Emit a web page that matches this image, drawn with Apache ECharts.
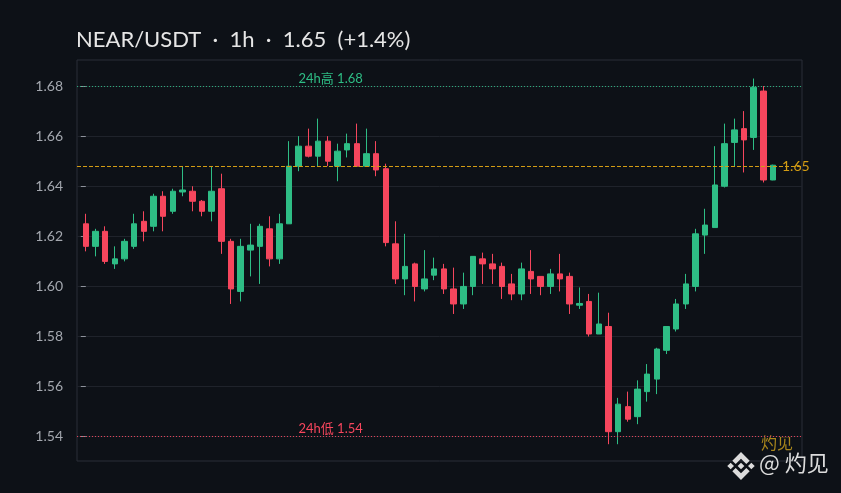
<!DOCTYPE html>
<html>
<head>
<meta charset="utf-8">
<script src="https://cdn.jsdelivr.net/npm/echarts@6/dist/echarts.min.js"></script>
<style>
html,body{margin:0;padding:0;background:#0d1117;}
#chart{width:841px;height:493px;}
</style>
</head>
<body>
<div id="chart"></div>
<script>
// ---- data ----
const categories = [
 '01:00','02:00','03:00','04:00','05:00','06:00','07:00','08:00','09:00','10:00','11:00','12:00',
 '13:00','14:00','15:00','16:00','17:00','18:00','19:00','20:00','21:00','22:00','23:00','00:00',
 '01:00','02:00','03:00','04:00','05:00','06:00','07:00','08:00','09:00','10:00','11:00','12:00',
 '13:00','14:00','15:00','16:00','17:00','18:00','19:00','20:00','21:00','22:00','23:00','00:00',
 '01:00','02:00','03:00','04:00','05:00','06:00','07:00','08:00','09:00','10:00','11:00','12:00',
 '13:00','14:00','15:00','16:00','17:00','18:00','19:00','20:00','21:00','22:00','23:00','00:00'
];
const opens = [
 1.625,1.616,1.622,1.609,1.611,1.616,1.626,1.624,1.636,1.630,1.6377,1.638,
 1.634,1.630,1.639,1.618,1.598,1.6145,1.616,1.623,1.611,1.625,1.648,1.656,
 1.652,1.658,1.648,1.6545,1.657,1.648,1.653,1.647,1.617,1.603,1.609,1.599,
 1.6045,1.607,1.599,1.593,1.600,1.611,1.609,1.608,1.601,1.597,1.606,1.604,
 1.600,1.605,1.604,1.5925,1.594,1.581,1.584,1.542,1.552,1.548,1.558,1.563,
 1.5745,1.583,1.593,1.600,1.6205,1.6235,1.640,1.6575,1.663,1.6595,1.678,1.6425
];
const closes = [
 1.616,1.622,1.610,1.611,1.618,1.625,1.622,1.636,1.628,1.638,1.6385,1.634,
 1.630,1.638,1.618,1.599,1.616,1.6165,1.624,1.611,1.625,1.648,1.656,1.652,
 1.658,1.650,1.654,1.657,1.648,1.653,1.6465,1.6175,1.603,1.608,1.600,1.603,
 1.607,1.599,1.593,1.600,1.612,1.609,1.607,1.600,1.597,1.607,1.603,1.600,
 1.605,1.603,1.593,1.5932,1.581,1.585,1.542,1.553,1.547,1.559,1.565,1.575,
 1.584,1.593,1.601,1.621,1.6245,1.6405,1.657,1.6625,1.6585,1.6795,1.6425,1.6484
];
const lows = [
 1.614,1.612,1.609,1.607,1.610,1.615,1.618,1.622,1.622,1.629,1.636,1.630,
 1.628,1.626,1.613,1.593,1.594,1.604,1.601,1.608,1.609,1.625,1.646,1.6515,
 1.648,1.648,1.642,1.6515,1.648,1.648,1.644,1.616,1.601,1.5965,1.594,1.598,
 1.6025,1.597,1.589,1.591,1.5965,1.601,1.601,1.595,1.5945,1.5945,1.597,1.5965,
 1.597,1.598,1.589,1.591,1.580,1.581,1.537,1.537,1.546,1.545,1.554,1.557,
 1.573,1.582,1.591,1.598,1.613,1.6235,1.6395,1.648,1.6455,1.6545,1.6415,1.6424
];
const highs = [
 1.629,1.623,1.624,1.616,1.619,1.629,1.630,1.637,1.638,1.639,1.648,1.640,
 1.6345,1.648,1.645,1.619,1.619,1.625,1.625,1.628,1.629,1.658,1.660,1.663,
 1.667,1.660,1.657,1.661,1.665,1.663,1.658,1.649,1.626,1.621,1.6095,1.6145,
 1.6115,1.609,1.6075,1.6055,1.612,1.6135,1.613,1.6095,1.605,1.6095,1.6145,1.604,
 1.607,1.613,1.6055,1.5996,1.597,1.5975,1.5895,1.5555,1.558,1.5625,1.569,1.5755,
 1.584,1.595,1.605,1.623,1.631,1.656,1.665,1.667,1.670,1.683,1.680,1.6486
];
const yTicks = [1.54,1.56,1.58,1.60,1.62,1.64,1.66,1.68];
const high24h = 1.68;
const low24h = 1.54;
const lastPrice = 1.648;
const titleText = 'NEAR/USDT  \u00b7  1h  \u00b7  1.65  (+1.4%)';

// ---- styles ----
const UP = '#2ebd85', DOWN = '#f6465d', GOLD = '#d29c14';
const X_MIN = -0.91, X_MAX = 74.0, Y_MIN = 1.5303, Y_MAX = 1.6904;
const LABEL_END_X = 51.5;
const CLEAR = 'rgba(0,0,0,0)';

const candles = opens.map((o, i) => [i, o, closes[i], lows[i], highs[i]]);

const chart = echarts.init(document.getElementById('chart'), null, {renderer: 'canvas'});

function bnbLogo(cx, cy, s, color) {
  const P = pts => ({type: 'polygon', shape: {points: pts.map(p => [cx + p[0] * s, cy + p[1] * s])}, style: {fill: color}, silent: true});
  return [
    P([[0,-1],[0.62,-0.38],[0.38,-0.14],[0,-0.52],[-0.38,-0.14],[-0.62,-0.38]]),
    P([[0,1],[0.62,0.38],[0.38,0.14],[0,0.52],[-0.38,0.14],[-0.62,0.38]]),
    P([[-0.98,0],[-0.74,-0.24],[-0.5,0],[-0.74,0.24]]),
    P([[0.98,0],[0.74,-0.24],[0.5,0],[0.74,0.24]]),
    P([[0,-0.24],[0.24,0],[0,0.24],[-0.24,0]])
  ];
}

chart.setOption({
  animation: false,
  backgroundColor: '#0d1117',
  textStyle: {fontFamily: 'Lato, "Noto Sans CJK SC", sans-serif'},
  title: {
    text: titleText,
    left: 71,
    top: 24,
    textStyle: {color: '#e6e6e6', fontSize: 22, fontWeight: 'normal', fontFamily: 'Lato, sans-serif'}
  },
  grid: {left: 77, right: 39, top: 60, bottom: 32, show: true, borderColor: '#2b2f38', borderWidth: 1, backgroundColor: 'transparent'},
  xAxis: {type: 'value', min: X_MIN, max: X_MAX, show: false},
  yAxis: {
    type: 'value', min: Y_MIN, max: Y_MAX, splitNumber: 8, scale: true,
    axisLine: {show: false},
    axisTick: {show: true, length: 5, lineStyle: {color: '#8d929b'}, customValues: yTicks},
    axisLabel: {color: '#a3a7ae', fontSize: 14, margin: 14, customValues: yTicks, formatter: v => v.toFixed(2)},
    splitLine: {show: true, lineStyle: {color: '#1f232b', width: 1}}
  },
  series: [{
    type: 'candlestick',
    encode: {x: 0, y: [1, 2, 3, 4]},
    data: candles,
    barWidth: 6,
    itemStyle: {color: UP, color0: DOWN, borderColor: UP, borderColor0: DOWN, borderWidth: 1},
    markLine: {
      silent: true,
      precision: 4,
      symbol: ['none', 'none'],
      animation: false,
      data: [
        {yAxis: high24h, lineStyle: {color: UP, type: [1, 2], width: 1, opacity: 0.9}, label: {show: false}},
        [{coord: [X_MIN, high24h], lineStyle: {color: CLEAR, width: 1}, label: {show: true, position: 'middle', distance: 1, formatter: '24h高 ' + high24h.toFixed(2), color: UP, fontSize: 13}}, {coord: [LABEL_END_X, high24h]}],
        {yAxis: low24h, lineStyle: {color: DOWN, type: [1, 2], width: 1, opacity: 0.9}, label: {show: false}},
        [{coord: [X_MIN, low24h], lineStyle: {color: CLEAR, width: 1}, label: {show: true, position: 'middle', distance: 1, formatter: '24h低 ' + low24h.toFixed(2), color: DOWN, fontSize: 13}}, {coord: [LABEL_END_X, low24h]}],
        {yAxis: lastPrice, lineStyle: {color: GOLD, type: [4, 2], width: 1.2, opacity: 1}, label: {show: true, position: 'end', distance: -20, formatter: lastPrice.toFixed(2), color: GOLD, fontSize: 14}}
      ]
    }
  }],
  graphic: [
    {type: 'text', right: 48, top: 435, silent: true, style: {text: '灼见', fill: '#a9861c', font: '16px "Noto Sans CJK SC", sans-serif'}},
    {type: 'text', left: 759, top: 452, silent: true, style: {text: '@ 灼见', fill: '#dcdcdc', font: '22px "Noto Sans CJK SC", sans-serif'}},
    {type: 'group', silent: true, children: bnbLogo(741, 466, 14, '#dcdcdc')}
  ]
});
</script>
</body>
</html>
